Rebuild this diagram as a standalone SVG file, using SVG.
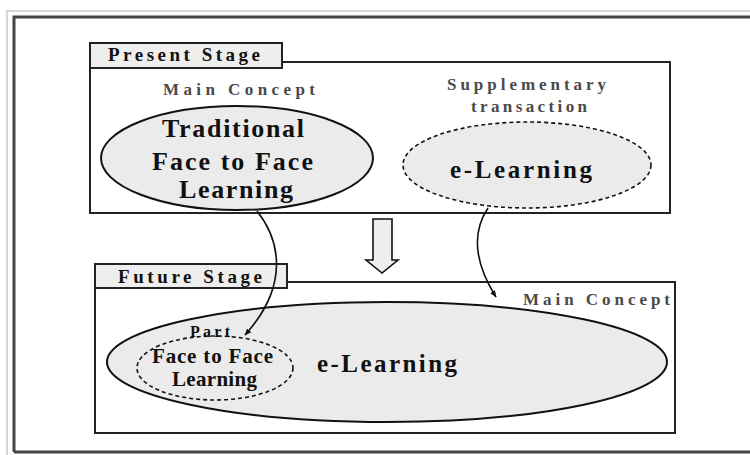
<svg xmlns="http://www.w3.org/2000/svg" width="750" height="455" viewBox="0 0 750 455">
<style>
.frame{fill:none;stroke:#222;stroke-width:2}
.tab{fill:#eeeeee;stroke:#222;stroke-width:2}
.solid{fill:#ebebeb;stroke:#111;stroke-width:2}
.dashed{fill:#ebebeb;stroke:#111;stroke-width:1.6;stroke-dasharray:4 3}
.t{font-family:"Liberation Serif","Times New Roman",serif;font-weight:bold;fill:#111}
.g{font-family:"Liberation Serif","Times New Roman",serif;font-weight:bold;fill:#4a4a4a}
.conn{fill:none;stroke:#111;stroke-width:1.6}
</style>
<defs>
<marker id="ah" viewBox="0 0 10 10" refX="9" refY="5" markerWidth="7" markerHeight="7" orient="auto" markerUnits="userSpaceOnUse">
<path d="M0,1 L10,5 L0,9 z" fill="#111"/>
</marker>
</defs>
<rect x="0" y="0" width="750" height="455" fill="#fff"/>
<path d="M7,455 L7,11 L750,11" fill="none" stroke="#d6d6d6" stroke-width="2"/>
<path d="M14,452 L14,17 L752,17 M14,452 L752,452" fill="none" stroke="#444" stroke-width="3"/>

<g id="present-stage">
<rect class="frame" x="90" y="62" width="580" height="151"/>
<rect class="tab" x="90" y="43" width="192" height="25"/>
<text class="t" x="108" y="61" font-size="19" textLength="152" lengthAdjust="spacing">Present Stage</text>
</g>

<g id="traditional">
<text class="g" x="163" y="95" font-size="17" textLength="152" lengthAdjust="spacing">Main Concept</text>
<ellipse class="solid" cx="237" cy="158" rx="136" ry="52"/>
<text class="t" x="162" y="137" font-size="26" textLength="142" lengthAdjust="spacing">Traditional</text>
<text class="t" x="152" y="170" font-size="26" textLength="161" lengthAdjust="spacing">Face to Face</text>
<text class="t" x="179" y="198" font-size="26" textLength="114" lengthAdjust="spacing">Learning</text>
</g>

<g id="supplementary">
<text class="g" x="447" y="90" font-size="17" textLength="159" lengthAdjust="spacing">Supplementary</text>
<text class="g" x="471" y="112" font-size="17" textLength="116" lengthAdjust="spacing">transaction</text>
<ellipse class="dashed" cx="527" cy="165" rx="124" ry="43"/>
<text class="t" x="450" y="178" font-size="25" textLength="142" lengthAdjust="spacing">e-Learning</text>
</g>

<g id="transition-arrow">
<path d="M373,219 L392,219 L392,260 L398,260 L382,273 L366,260 L373,260 Z" fill="#eeeeee" stroke="#111" stroke-width="1.6"/>
</g>

<g id="future-stage">
<rect class="frame" x="95" y="282" width="580" height="151"/>
<rect class="tab" x="95" y="264" width="192" height="24"/>
<text class="t" x="118" y="283" font-size="19" textLength="144" lengthAdjust="spacing">Future Stage</text>
<text class="g" x="523" y="305" font-size="17" textLength="147" lengthAdjust="spacing">Main Concept</text>
</g>

<g id="future-elearning">
<ellipse class="solid" cx="387" cy="362" rx="280" ry="60"/>
<text class="t" x="317" y="372" font-size="25" textLength="140" lengthAdjust="spacing">e-Learning</text>
</g>

<g id="part-face-to-face">
<ellipse class="dashed" cx="215" cy="368" rx="78" ry="32"/>
<text class="t" x="190" y="337" font-size="16" textLength="40" lengthAdjust="spacing">Part</text>
<text class="t" x="152" y="363" font-size="21" textLength="121" lengthAdjust="spacing">Face to Face</text>
<text class="t" x="172" y="386" font-size="21" textLength="85" lengthAdjust="spacing">Learning</text>
</g>

<g id="connectors">
<path class="conn" d="M257,211 C280,240 290,285 245,335" marker-end="url(#ah)"/>
<path class="conn" d="M488,208 C472,232 474,262 496,297" marker-end="url(#ah)"/>
</g>
</svg>
